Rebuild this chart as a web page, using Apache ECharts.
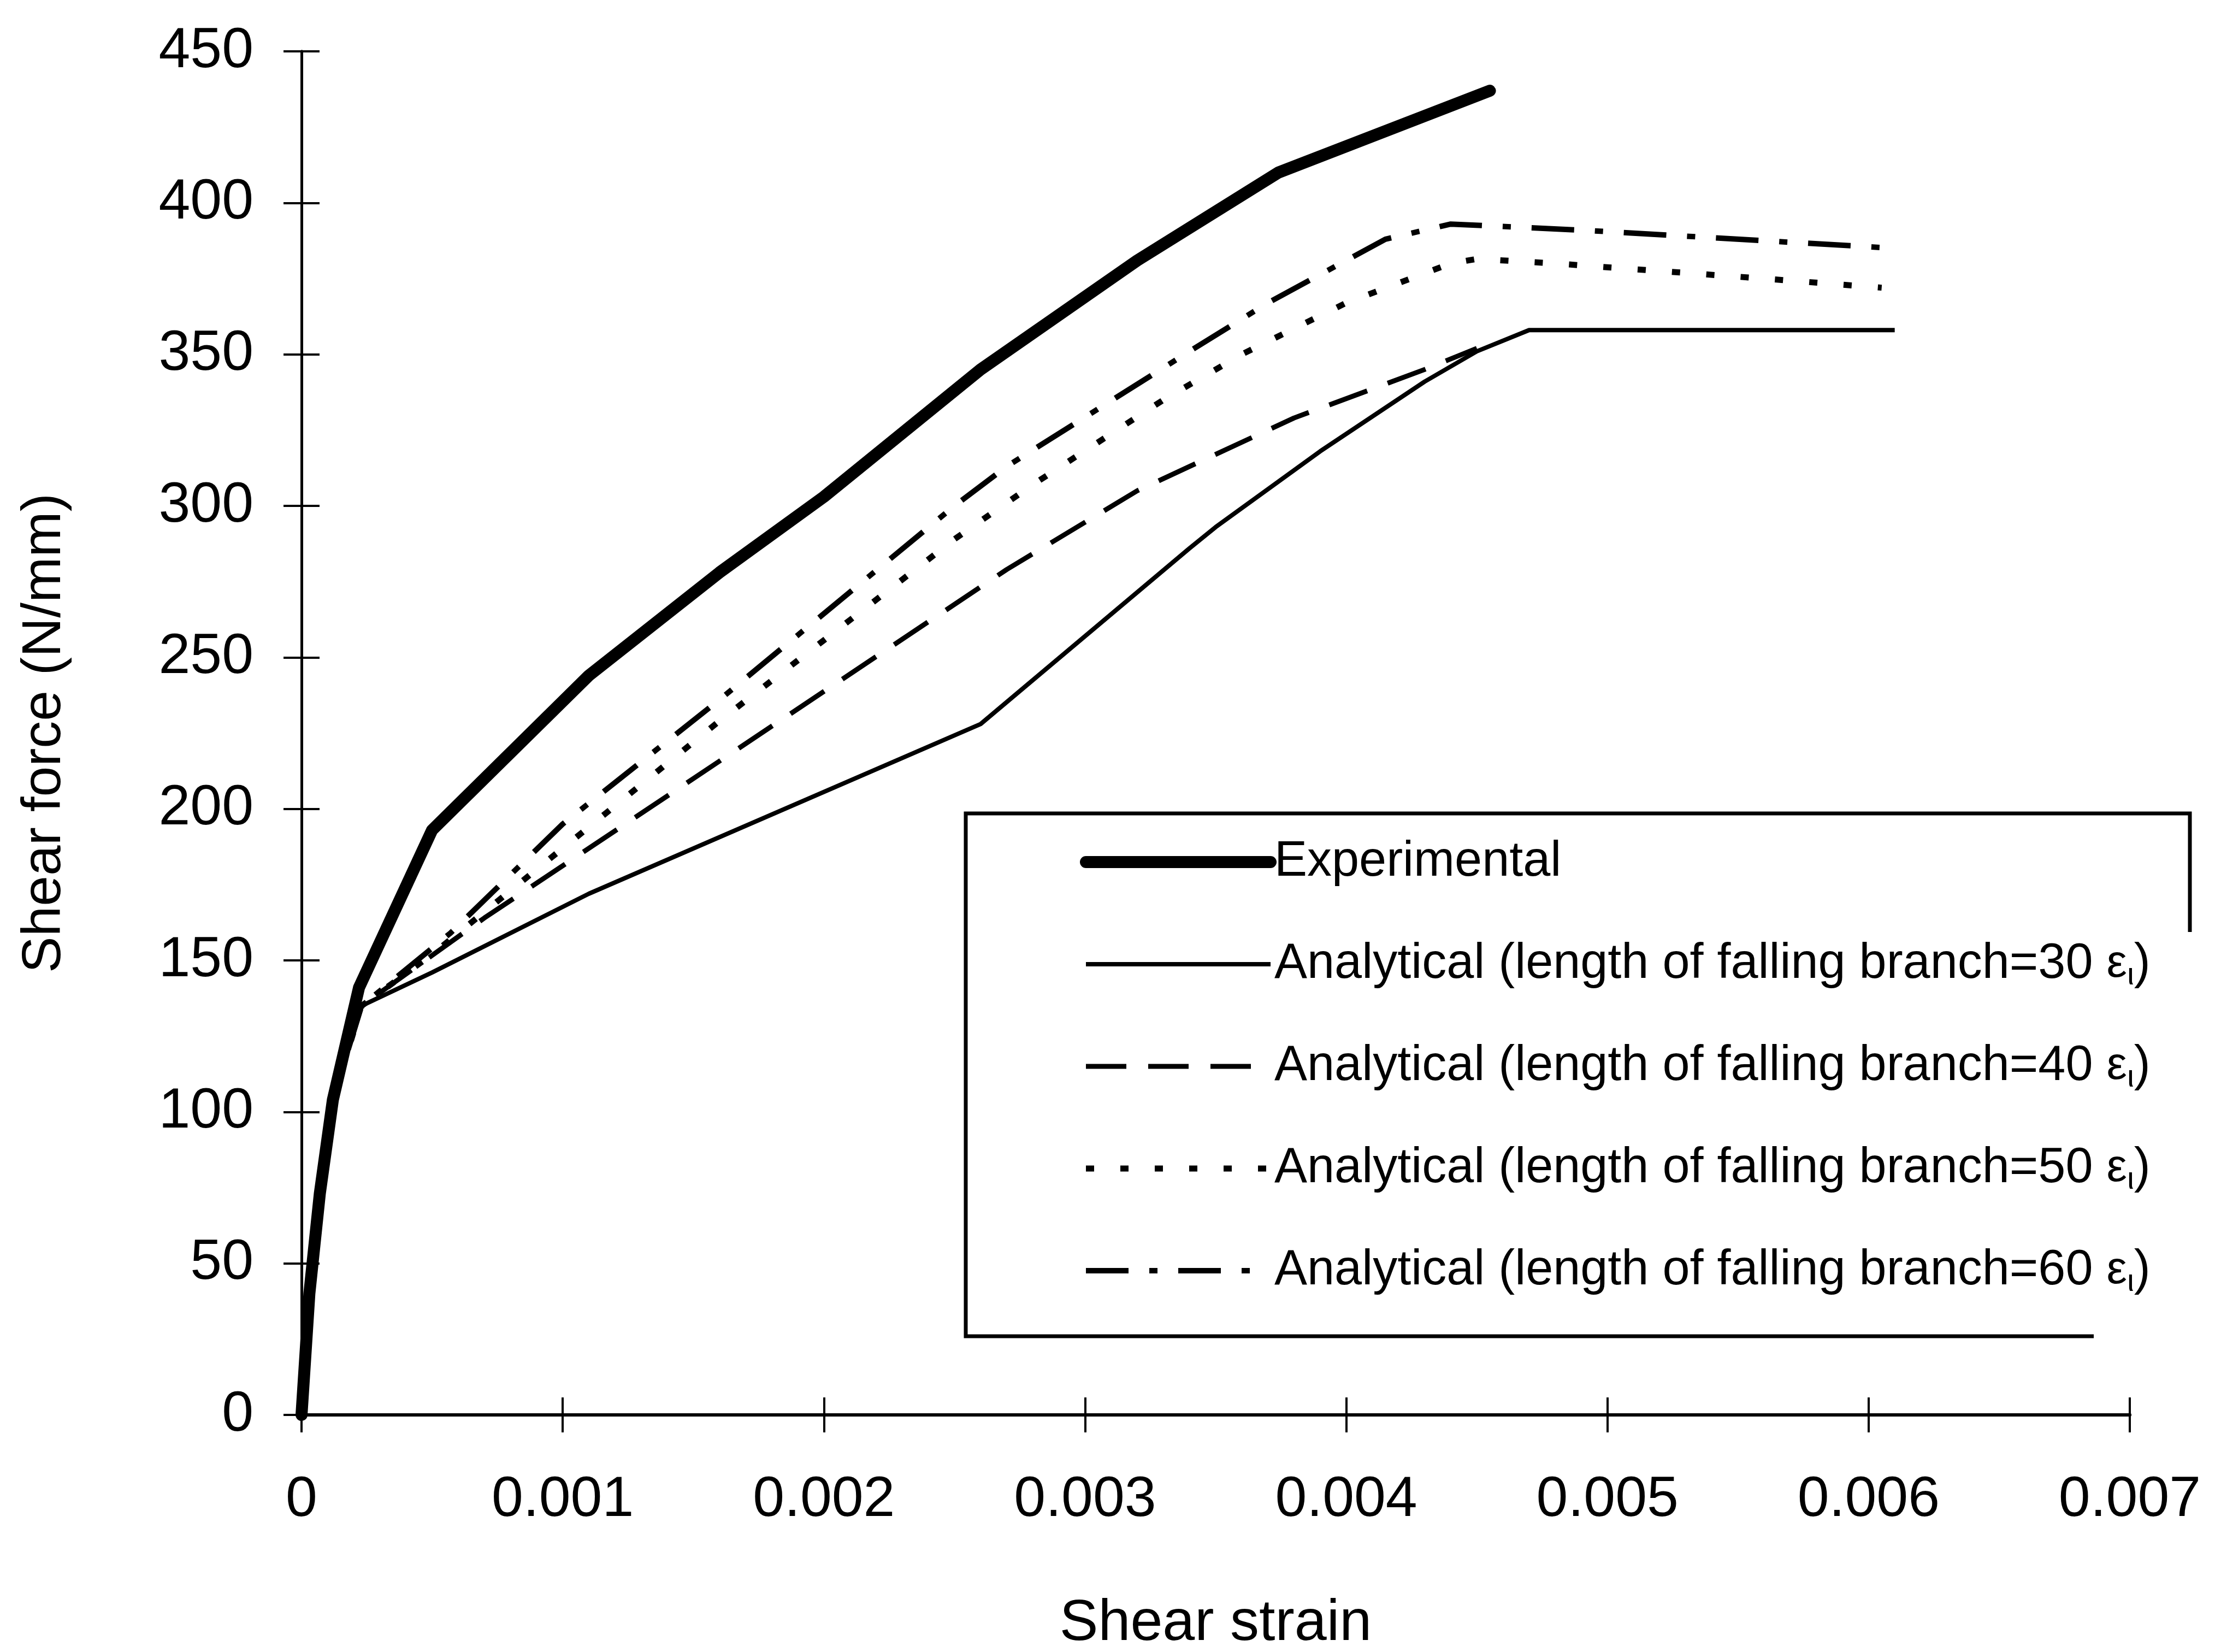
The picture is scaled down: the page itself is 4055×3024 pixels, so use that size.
<!DOCTYPE html>
<html>
<head>
<meta charset="utf-8">
<script src="https://cdn.jsdelivr.net/npm/echarts@6/dist/echarts.min.js"></script>
<style>
  html, body { margin: 0; padding: 0; background: #fff; }
  #chart { width: 4055px; height: 3024px; }
</style>
</head>
<body>
<div id="chart"></div>
<script>
// Shear force (N/mm) against shear strain: test curve and four analytical curves
const xTickLabels = ['0', '0.001', '0.002', '0.003', '0.004', '0.005', '0.006', '0.007'];
const yTickLabels = ['0', '50', '100', '150', '200', '250', '300', '350', '400', '450'];

const expStrain = [0, 0.00003, 0.00007, 0.00012, 0.00022, 0.0005, 0.0011, 0.0016, 0.002, 0.0026, 0.0032, 0.00374, 0.00455];
const expForce  = [0, 40, 73, 104, 141, 193, 244, 278, 303, 345, 381, 410, 437];

const a30Strain = [0, 0.00003, 0.00007, 0.00012, 0.00023, 0.0005, 0.0011, 0.0026, 0.0034, 0.0035, 0.0039, 0.0043, 0.0045, 0.0047, 0.0061];
const a30Force  = [0, 40, 73, 104, 135, 146, 172, 228, 286, 293, 318, 341, 351, 358, 358];

const a40Strain = [0, 0.00003, 0.00007, 0.00012, 0.00023, 0.0007, 0.0027, 0.0032, 0.0038, 0.0043, 0.0045];
const a40Force  = [0, 40, 73, 104, 135, 164, 279, 305, 329, 345, 352];

const a50Strain = [0, 0.00003, 0.00007, 0.00012, 0.00023, 0.0005, 0.0011, 0.0016, 0.0025, 0.0028, 0.0033, 0.0036, 0.004, 0.0044, 0.0045, 0.0048, 0.0056, 0.00605];
const a50Force  = [0, 40, 73, 104, 135, 152, 194, 229, 289, 307, 335, 350, 367, 380, 381.5, 380, 375, 372];

const a60Strain = [0, 0.00003, 0.00007, 0.00012, 0.00023, 0.00057, 0.001, 0.0016, 0.0025, 0.0027, 0.0034, 0.0037, 0.00415, 0.0044, 0.0049, 0.0061];
const a60Force  = [0, 40, 73, 104, 135, 159, 195, 236, 300, 313, 351, 367, 388, 393, 391, 385];

const branchLengths = [30, 40, 50, 60];
const expName = 'Experimental';
const analyticalNames = branchLengths.map(n => 'Analytical (length of falling branch=' + n + ' \u03b5\u03b9)');

const zip = (xs, ys) => xs.map((x, i) => [x, ys[i]]);

const FONT = 'Liberation Sans, Arial, sans-serif';
const INK = '#000';

// line looks shared by the plotted curves and their key entries
const expLine = { color: INK, width: 22, cap: 'round', join: 'round', type: 'solid' };
const a30Line = { color: INK, width: 8, type: 'solid' };
const a40Line = { color: INK, width: 9, type: [74, 40], cap: 'butt' };
const a50Line = { color: INK, width: 11, type: [15, 48], cap: 'butt' };
const a60Line = { color: INK, width: 10, type: [78, 38, 15, 38], cap: 'butt' };
const noMarker = { color: INK, opacity: 0 };

const chart = echarts.init(document.getElementById('chart'), null, { renderer: 'canvas' });

const axisCommon = {
  type: 'value',
  splitLine: { show: false },
  minorTick: { show: false }
};

const option = {
  backgroundColor: '#fff',
  animation: false,
  color: [INK, INK, INK, INK, INK],
  grid: { left: 552, right: 156, top: 94, bottom: 434, containLabel: false, outerBoundsMode: 'none' },
  xAxis: [
    Object.assign({}, axisCommon, {
      min: 0, max: 0.007, interval: 0.001,
      position: 'bottom',
      axisLine: { show: true, onZero: false, lineStyle: { color: INK, width: 6 } },
      axisTick: { show: true, inside: false, length: 32, lineStyle: { color: INK, width: 4 } },
      axisLabel: {
        margin: 104, color: INK, fontFamily: FONT, fontSize: 104,
        formatter: (v) => xTickLabels[Math.round(v / 0.001)]
      },
      name: 'Shear strain', nameLocation: 'middle', nameGap: 330,
      nameTextStyle: { color: INK, fontFamily: FONT, fontSize: 106 }
    }),
    Object.assign({}, axisCommon, {
      min: 0, max: 0.007, interval: 0.001,
      position: 'bottom', offset: 0,
      axisLine: { show: true, onZero: false, lineStyle: { color: INK, width: 6 } },
      axisTick: { show: true, inside: true, length: 32, lineStyle: { color: INK, width: 4 } },
      axisLabel: { show: false }
    })
  ],
  yAxis: [
    Object.assign({}, axisCommon, {
      min: 0, max: 450, interval: 50,
      position: 'left',
      axisLine: { show: true, onZero: false, lineStyle: { color: INK, width: 5 } },
      axisTick: { show: true, inside: false, length: 33, lineStyle: { color: INK, width: 4 } },
      axisLabel: {
        margin: 88, color: INK, fontFamily: FONT, fontSize: 104,
        formatter: (v) => yTickLabels[Math.round(v / 50)]
      },
      name: 'Shear force (N/mm)', nameLocation: 'middle', nameGap: 420, nameRotate: 90,
      nameTextStyle: { color: INK, fontFamily: FONT, fontSize: 100 }
    }),
    Object.assign({}, axisCommon, {
      min: 0, max: 450, interval: 50,
      position: 'left', offset: 0,
      axisLine: { show: true, onZero: false, lineStyle: { color: INK, width: 5 } },
      axisTick: { show: true, inside: true, length: 33, lineStyle: { color: INK, width: 4 } },
      axisLabel: { show: false }
    })
  ],
  legend: {
    orient: 'vertical',
    left: 1977, top: 1528,
    padding: 0,
    itemWidth: 338, itemHeight: 30, itemGap: 87,
    selectedMode: false,
    textStyle: {
      color: INK, fontFamily: FONT, fontSize: 90, lineHeight: 100, padding: [0, 0, 0, 2],
      rich: {
        t: { fontFamily: FONT, fontSize: 90, color: INK },
        e: { fontFamily: FONT, fontSize: 84, color: INK },
        s: { fontFamily: FONT, fontSize: 58, color: INK, verticalAlign: 'bottom', lineHeight: 82 }
      }
    },
    formatter: (name) => {
      if (name === expName) return '{t|' + name + '}';
      return '{t|' + name.replace(' \u03b5\u03b9)', ' ') + '}{e|\u03b5}{s|\u03b9}{t|)}';
    },
    data: [
      { name: expName, lineStyle: expLine, itemStyle: noMarker },
      { name: analyticalNames[0], lineStyle: a30Line, itemStyle: noMarker },
      { name: analyticalNames[1], lineStyle: a40Line, itemStyle: noMarker },
      { name: analyticalNames[2], lineStyle: a50Line, itemStyle: noMarker },
      { name: analyticalNames[3], lineStyle: a60Line, itemStyle: noMarker }
    ]
  },
  graphic: [
    {
      // frame round the key
      type: 'polyline',
      shape: { points: [[4009, 1706], [4009, 1489], [1768, 1489], [1768, 2446], [3833, 2446]] },
      style: { stroke: INK, lineWidth: 7, fill: null },
      z: 10
    }
  ],
  series: [
    {
      name: analyticalNames[0], type: 'line', data: zip(a30Strain, a30Force),
      symbol: 'none', itemStyle: { color: INK }, lineStyle: a30Line, z: 3
    },
    {
      name: analyticalNames[1], type: 'line', data: zip(a40Strain, a40Force),
      symbol: 'none', itemStyle: { color: INK }, lineStyle: a40Line, z: 3
    },
    {
      name: analyticalNames[2], type: 'line', data: zip(a50Strain, a50Force),
      symbol: 'none', itemStyle: { color: INK }, lineStyle: a50Line, z: 3
    },
    {
      name: analyticalNames[3], type: 'line', data: zip(a60Strain, a60Force),
      symbol: 'none', itemStyle: { color: INK }, lineStyle: a60Line, z: 3
    },
    {
      name: expName, type: 'line', data: zip(expStrain, expForce),
      symbol: 'none', itemStyle: { color: INK }, lineStyle: expLine, z: 4
    }
  ]
};

chart.setOption(option);
</script>
</body>
</html>
